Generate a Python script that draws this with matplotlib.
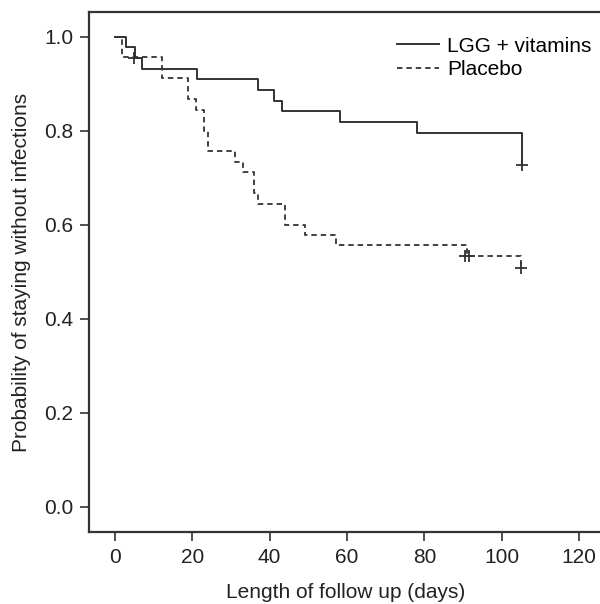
import numpy as np
import matplotlib
matplotlib.use("Agg")
import matplotlib.pyplot as plt

plt.rcParams["font.family"] = ["Liberation Sans", "DejaVu Sans"]

# ─── Kaplan-Meier steps ──────────────────────────────────────────────────────
lgg_times = [0, 2.8, 5.2, 7.1, 21.1, 37.1, 41.1, 43.1, 58.2, 78.0, 105.2]
lgg_surv  = [1.0, 0.977, 0.955, 0.932, 0.909, 0.886, 0.864, 0.841, 0.818, 0.795, 0.727]
lgg_cens_t = [5.0, 105.2]
lgg_cens_s = [0.955, 0.727]

pla_times = [0, 1.9, 12.2, 19.0, 20.9, 23.0, 24.0, 31.1, 33.0, 35.9, 37.1,
             44.0, 49.1, 57.1, 91.1, 105.0]
pla_surv  = [1.0, 0.956, 0.911, 0.867, 0.844, 0.800, 0.756, 0.733, 0.711, 0.667,
             0.644, 0.600, 0.578, 0.556, 0.533, 0.507]
pla_cens_t = [90.6, 91.6, 105.0]
pla_cens_s = [0.533, 0.533, 0.507]

x_ticks = [0, 20, 40, 60, 80, 100, 120]
y_ticks = [0.0, 0.2, 0.4, 0.6, 0.8, 1.0]

col = "#333333"
txt = "#222222"
fs = 15

fig = plt.figure(figsize=(6.0, 6.04), dpi=100)
ax = fig.add_axes([89 / 600, 71.7 / 604, 514 / 600, 520.6 / 604])

ax.step(lgg_times, lgg_surv, where="post", color=col, lw=1.4,
        label="LGG + vitamins")
ax.step(pla_times, pla_surv, where="post", color=col, lw=1.3,
        linestyle=(0, (3.0, 2.2)), label="Placebo")
ax.plot(lgg_cens_t, lgg_cens_s, "+", color=col, ms=8, mew=1.3)
ax.plot(pla_cens_t, pla_cens_s, "+", color=col, ms=8, mew=1.3)

ax.set_xlim(-6.72, 126.2)
ax.set_ylim(-0.0545, 1.053)
ax.set_xticks(x_ticks)
ax.set_yticks(y_ticks)
ax.set_yticklabels([f"{v:.1f}" for v in y_ticks])

for side in ["left", "bottom", "top"]:
    ax.spines[side].set_color(col)
    ax.spines[side].set_linewidth(1.6)
ax.spines["right"].set_visible(False)

ax.tick_params(direction="out", length=6.5, width=1.2, color=col,
               labelsize=fs, labelcolor=txt, pad=5)

ax.set_xlabel("Length of follow up (days)", fontsize=fs, color=txt,
              labelpad=11)
ax.set_ylabel("Probability of staying without infections", fontsize=fs,
              color=txt, labelpad=9)

ax.legend(loc="upper left", bbox_to_anchor=(0.599, 0.952), frameon=False,
          fontsize=fs, handlelength=2.0, handletextpad=0.4,
          labelspacing=0.22, borderaxespad=0, borderpad=0)

fig.savefig("out.png", dpi=100)
